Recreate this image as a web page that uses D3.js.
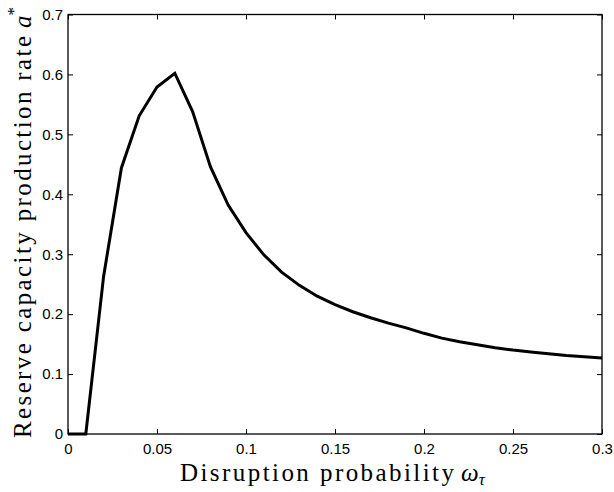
<!DOCTYPE html>
<html>
<head>
<meta charset="utf-8">
<script src="https://cdn.jsdelivr.net/npm/d3@7"></script>
<style>
  html, body { margin: 0; padding: 0; background: #fff; }
  svg { display: block; }
</style>
</head>
<body>
<script>
// ---- data ----
const omega = [0, 0.01, 0.02, 0.03, 0.04, 0.05, 0.06, 0.07, 0.08, 0.09, 0.10,
  0.11, 0.12, 0.13, 0.14, 0.15, 0.16, 0.17, 0.18, 0.19, 0.20,
  0.21, 0.22, 0.23, 0.24, 0.25, 0.26, 0.27, 0.28, 0.29, 0.30];
const rate = [0, 0, 0.263, 0.444, 0.531, 0.579, 0.602, 0.538, 0.446, 0.382, 0.336,
  0.299, 0.270, 0.248, 0.230, 0.216, 0.204, 0.194, 0.185, 0.177, 0.168,
  0.160, 0.154, 0.149, 0.144, 0.140, 0.137, 0.134, 0.131, 0.129, 0.127];
const xTicks = [0, 0.05, 0.1, 0.15, 0.2, 0.25, 0.3];
const xTickLabels = ["0", "0.05", "0.1", "0.15", "0.2", "0.25", "0.3"];
const yTicks = [0, 0.1, 0.2, 0.3, 0.4, 0.5, 0.6, 0.7];
const yTickLabels = ["0", "0.1", "0.2", "0.3", "0.4", "0.5", "0.6", "0.7"];

const W = 614, H = 492;
const L = 68, R = 602, T = 14.5, B = 434;

const svg = d3.select("body").append("svg").attr("width", W).attr("height", H);

const x = d3.scaleLinear().domain([0, 0.3]).range([L, R]);
const y = d3.scaleLinear().domain([0, 0.7]).range([B, T]);

const tickFont = "Liberation Sans, Arial, Helvetica, sans-serif";
const labelFont = "Liberation Serif, 'Times New Roman', serif";

// box
svg.append("rect").attr("x", L).attr("y", T).attr("width", R - L).attr("height", B - T)
  .attr("fill", "none").attr("stroke", "#000").attr("stroke-width", 1.3);

// axes with inward ticks
const xAxis = d3.axisBottom(x).tickValues(xTicks).tickFormat((d, i) => xTickLabels[i])
  .tickSizeInner(-5).tickSizeOuter(0).tickPadding(9);
const gx = svg.append("g").attr("transform", `translate(0,${B})`).call(xAxis);
const xTop = d3.axisTop(x).tickValues(xTicks).tickFormat("").tickSizeInner(-5).tickSizeOuter(0);
const gxt = svg.append("g").attr("transform", `translate(0,${T})`).call(xTop);

const yAxis = d3.axisLeft(y).tickValues(yTicks).tickFormat((d, i) => yTickLabels[i])
  .tickSizeInner(-5).tickSizeOuter(0).tickPadding(5);
const gy = svg.append("g").attr("transform", `translate(${L},0)`).call(yAxis);
const yRight = d3.axisRight(y).tickValues(yTicks).tickFormat("").tickSizeInner(-5).tickSizeOuter(0);
const gyr = svg.append("g").attr("transform", `translate(${R},0)`).call(yRight);

[gx, gxt, gy, gyr].forEach(g => {
  g.select(".domain").remove();
  g.selectAll(".tick line").attr("stroke", "#000").attr("stroke-width", 1);
  g.selectAll(".tick text").attr("fill", "#000").attr("font-family", tickFont).attr("font-size", 15);
});
gx.selectAll(".tick text").attr("dy", "0.71em");

// line
const line = d3.line().x((d, i) => x(omega[i])).y(d => y(d));
svg.append("path").datum(rate).attr("d", line)
  .attr("fill", "none").attr("stroke", "#000").attr("stroke-width", 3)
  .attr("stroke-linejoin", "miter");

// x label
const xl = svg.append("text").attr("x", 180).attr("y", 481)
  .attr("text-anchor", "start").attr("font-family", labelFont).attr("font-size", 25).attr("fill", "#000");
xl.append("tspan").attr("textLength", 274).attr("lengthAdjust", "spacing").text("Disruption probability");
xl.append("tspan").attr("x", 461).attr("font-style", "italic").text("ω");
xl.append("tspan").attr("font-style", "italic").attr("font-size", 17).attr("dy", 4).text("τ");

// y label
const yl = svg.append("text").attr("transform", `translate(31,438) rotate(-90)`)
  .attr("text-anchor", "start").attr("font-family", labelFont).attr("font-size", 25).attr("fill", "#000");
yl.append("tspan").attr("textLength", 402).attr("lengthAdjust", "spacing").text("Reserve capacity production rate");
yl.append("tspan").attr("x", 410).attr("font-style", "italic").text("a");
yl.append("tspan").attr("font-size", 17).attr("dy", -12).text("*");
</script>
</body>
</html>
